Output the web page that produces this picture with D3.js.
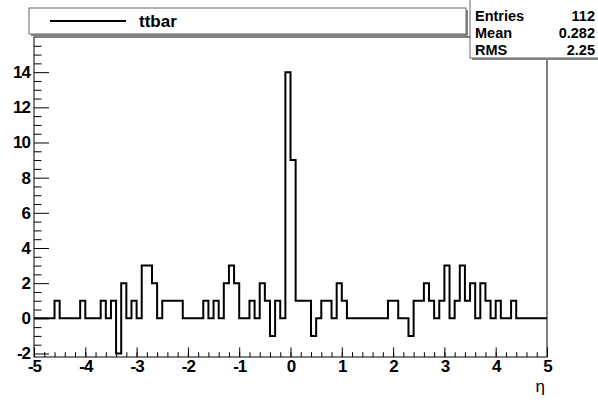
<!DOCTYPE html>
<html>
<head>
<meta charset="utf-8">
<script src="https://cdn.jsdelivr.net/npm/d3@7"></script>
<style>
  body { margin: 0; background: #fff; }
  svg text { font-family: "Liberation Sans", Arial, sans-serif; }
</style>
</head>
<body>
<div id="chart"></div>
<script>
// Date histograma (100 bini de la -5 la 5)
var xMin = -5;
var binWidth = 0.1;
var counts = [
    0, 0, 0, 0, 1, 0, 0, 0, 0, 1,
    0, 0, 0, 1, 0, 1, -2, 2, 0, 1,
    0, 3, 3, 2, 0, 1, 1, 1, 1, 0,
    0, 0, 0, 1, 0, 1, 0, 2, 3, 2,
    0, 0, 1, 0, 2, 1, -1, 1, 0, 14,
    9, 1, 1, 1, -1, 0, 1, 1, 0, 2,
    1, 0, 0, 0, 0, 0, 0, 0, 0, 1,
    1, 0, 0, -1, 1, 1, 2, 1, 0, 1,
    3, 0, 1, 3, 1, 2, 0, 2, 1, 0,
    1, 0, 0, 1, 0, 0, 0, 0, 0, 0
];
var xTicks = [-5, -4, -3, -2, -1, 0, 1, 2, 3, 4, 5];
var yTicks = [-2, 0, 2, 4, 6, 8, 10, 12, 14];
var legendLabel = "ttbar";
var statsLabels = ["Entries", "Mean", "RMS"];
var statsValues = ["112", "0.282", "2.25"];
var xTitle = "η";

var svgWidth = 598;
var svgHeight = 400;
var frame = { left: 34, right: 547, top: 37, bottom: 357 };

var svg = d3.select("#chart")
    .append("svg")
    .attr("width", svgWidth)
    .attr("height", svgHeight);

svg.append("rect")
    .attr("width", svgWidth)
    .attr("height", svgHeight)
    .attr("fill", "#fff");

// Scalele
var x = d3.scaleLinear().domain([-5, 5]).range([frame.left, frame.right]);
var y = d3.scaleLinear().domain([-2.2, 16]).range([frame.bottom, frame.top]);

// eticheta cu cratima simpla, ca in original
var plainFormat = function (d) { return String(d); };

// Cadrul
svg.append("rect")
    .attr("x", frame.left)
    .attr("y", frame.top)
    .attr("width", frame.right - frame.left)
    .attr("height", frame.bottom - frame.top)
    .attr("fill", "none")
    .attr("stroke", "#000")
    .attr("stroke-width", 1);

// Axa Y - diviziuni mici
var yMinor = d3.range(-2, 16.01, 0.5).filter(function (d) { return d % 2 !== 0; });
svg.append("g")
    .attr("transform", "translate(" + frame.left + ",0)")
    .call(d3.axisLeft(y).tickValues(yMinor).tickSize(-7.5).tickFormat(""))
    .call(function (g) { g.select(".domain").remove(); });

// Axa Y - diviziuni mari
svg.append("g")
    .attr("class", "yaxis")
    .attr("transform", "translate(" + frame.left + ",0)")
    .call(d3.axisLeft(y).tickValues(yTicks).tickSize(-15).tickPadding(4).tickFormat(plainFormat))
    .call(function (g) { g.select(".domain").remove(); });

// Axa X - diviziuni mici
var xMinor = d3.range(-5, 5.001, 0.2);
svg.append("g")
    .attr("transform", "translate(0," + frame.bottom + ")")
    .call(d3.axisBottom(x).tickValues(xMinor).tickSize(-4.8).tickFormat(""))
    .call(function (g) { g.select(".domain").remove(); });

// Axa X - diviziuni mari
svg.append("g")
    .attr("class", "xaxis")
    .attr("transform", "translate(0," + frame.bottom + ")")
    .call(d3.axisBottom(x).tickValues(xTicks).tickSize(-9.6).tickPadding(3).tickFormat(plainFormat))
    .call(function (g) { g.select(".domain").remove(); });

svg.selectAll(".xaxis text, .yaxis text")
    .attr("font-size", 17)
    .attr("font-weight", "bold")
    .attr("letter-spacing", -1)
    .attr("font-family", "Liberation Sans, Arial, sans-serif")
    .attr("fill", "#000");
svg.selectAll(".tick line").attr("stroke", "#000");

// Titlul axei X
svg.append("text")
    .attr("x", frame.right - 2)
    .attr("y", 392)
    .attr("text-anchor", "end")
    .attr("font-size", 17)
    .text(xTitle);

// Linia histogramei (in trepte)
var bins = counts.map(function (c, i) {
    return { x0: xMin + i * binWidth, x1: xMin + (i + 1) * binWidth, value: c };
});
var pathData = "";
bins.forEach(function (b, i) {
    pathData += (i === 0 ? "M" : "L") + x(b.x0) + "," + y(b.value);
    pathData += "L" + x(b.x1) + "," + y(b.value);
});
svg.append("path")
    .attr("d", pathData)
    .attr("fill", "none")
    .attr("stroke", "#000")
    .attr("stroke-width", 2);

// Legenda
var legend = svg.append("g");
legend.append("rect")
    .attr("x", 31).attr("y", 10)
    .attr("width", 437).attr("height", 26)
    .attr("fill", "#888");
legend.append("rect")
    .attr("x", 29).attr("y", 8)
    .attr("width", 437).attr("height", 26)
    .attr("fill", "#fff")
    .attr("stroke", "#666")
    .attr("stroke-width", 1);
legend.append("line")
    .attr("x1", 50).attr("x2", 126)
    .attr("y1", 21).attr("y2", 21)
    .attr("stroke", "#000")
    .attr("stroke-width", 2);
legend.append("text")
    .attr("x", 139).attr("y", 27)
    .attr("font-size", 17)
    .attr("font-weight", "bold")
    .text(legendLabel);

// Caseta de statistici
var stats = svg.append("g");
stats.append("rect")
    .attr("x", 472).attr("y", -2)
    .attr("width", 130).attr("height", 62)
    .attr("fill", "#888");
stats.append("rect")
    .attr("x", 470).attr("y", -4)
    .attr("width", 132).attr("height", 62)
    .attr("fill", "#fff")
    .attr("stroke", "#666")
    .attr("stroke-width", 1);
statsLabels.forEach(function (lab, i) {
    stats.append("text")
        .attr("x", 475).attr("y", 21 + i * 17)
        .attr("font-size", 14.5)
        .attr("font-weight", "bold")
        .text(lab);
    stats.append("text")
        .attr("x", 595).attr("y", 21 + i * 17)
        .attr("text-anchor", "end")
        .attr("font-size", 14.5)
        .attr("font-weight", "bold")
        .text(statsValues[i]);
});
</script>
</body>
</html>
